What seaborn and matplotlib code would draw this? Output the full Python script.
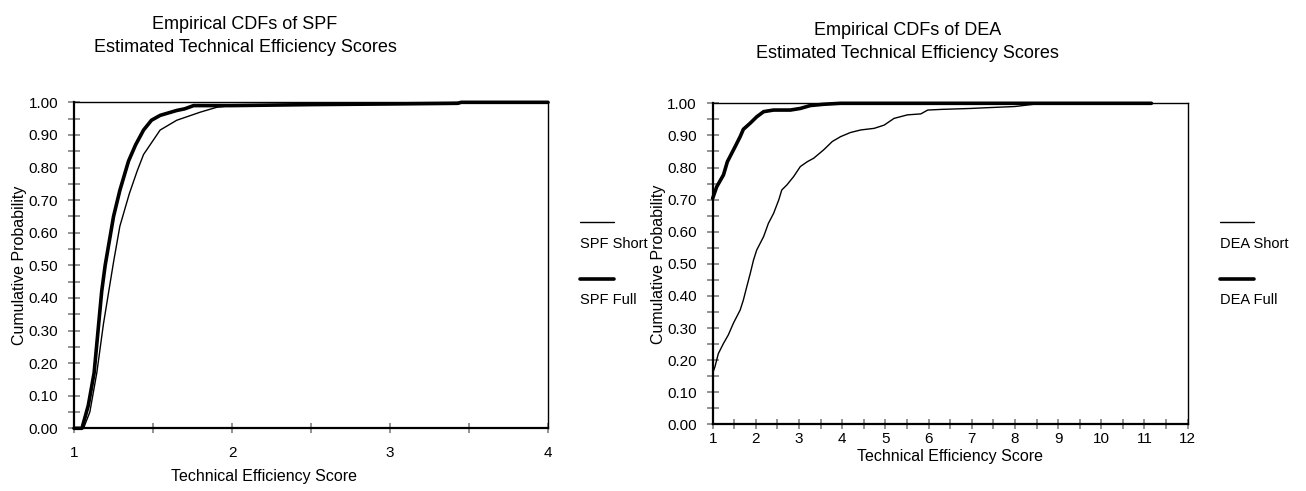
import numpy as np
import pandas as pd
import matplotlib
matplotlib.use("Agg")
import matplotlib.pyplot as plt
import seaborn as sns
from matplotlib.lines import Line2D

# valeurs
spf_short_x = [1.00, 1.06, 1.10, 1.144, 1.186, 1.25, 1.29, 1.35, 1.40, 1.44, 1.545,
               1.65, 1.71, 1.80, 1.905, 2.00, 2.50, 3.00, 3.50, 4.00]
spf_short_y = [0.00, 0.00, 0.05, 0.17, 0.32, 0.51, 0.62, 0.72, 0.79, 0.84, 0.915,
               0.945, 0.955, 0.97, 0.985, 0.99, 0.992, 0.995, 1.00, 1.00]

spf_full_x = [1.00, 1.05, 1.09, 1.127, 1.175, 1.197, 1.25, 1.29, 1.345, 1.39, 1.44,
              1.49, 1.545, 1.65, 1.70, 1.757, 1.88, 2.00, 2.50, 3.00, 3.43, 3.45, 4.00]
spf_full_y = [0.00, 0.00, 0.07, 0.17, 0.42, 0.50, 0.65, 0.73, 0.82, 0.87, 0.915,
              0.945, 0.96, 0.975, 0.98, 0.99, 0.99, 0.99, 0.993, 0.995, 0.997, 1.00, 1.00]

dea_short_x = [1.00, 1.054, 1.13, 1.25, 1.36, 1.48, 1.636, 1.71, 1.79, 1.87, 1.946,
               2.02, 2.18, 2.29, 2.41, 2.53, 2.60, 2.72, 2.876, 3.03, 3.19, 3.34,
               3.57, 3.77, 3.96, 4.19, 4.43, 4.74, 4.97, 5.20, 5.51, 5.82, 5.98,
               6.29, 6.98, 7.30, 8.00, 8.50, 8.60]
dea_short_y = [0.159, 0.18, 0.22, 0.252, 0.278, 0.315, 0.356, 0.387, 0.429, 0.47, 0.512,
               0.543, 0.585, 0.626, 0.657, 0.699, 0.73, 0.746, 0.772, 0.803, 0.818, 0.829,
               0.855, 0.881, 0.896, 0.909, 0.917, 0.922, 0.932, 0.953, 0.964, 0.967, 0.979,
               0.981, 0.984, 0.986, 0.99, 0.998, 1.00]

dea_full_x = [1.00, 1.093, 1.25, 1.34, 1.52, 1.636, 1.71, 1.868, 2.02, 2.18, 2.41,
              2.80, 3.03, 3.26, 3.57, 3.96, 11.16]
dea_full_y = [0.704, 0.74, 0.777, 0.818, 0.865, 0.896, 0.919, 0.938, 0.958, 0.974, 0.979,
              0.979, 0.984, 0.993, 0.997, 1.00, 1.00]

y_ticks = np.round(np.arange(0, 1.001, 0.1), 2)

sns.set_style("white")
plt.rcParams["font.family"] = ["Liberation Sans", "DejaVu Sans"]
plt.rcParams["text.color"] = "black"
plt.rcParams["axes.labelcolor"] = "black"
plt.rcParams["xtick.labelcolor"] = "black"
plt.rcParams["ytick.labelcolor"] = "black"

fig = plt.figure(figsize=(13.06, 4.91), dpi=100)
ax1 = fig.add_axes([0.0567, 0.1277, 0.3629, 0.6639])
ax2 = fig.add_axes([0.5457, 0.1358, 0.3637, 0.6538])


def tracer(ax, xs, ys, lw):
    d = pd.DataFrame({"x": xs, "y": ys})
    sns.lineplot(data=d, x="x", y="y", ax=ax, color="black", linewidth=lw,
                 sort=False, estimator=None, clip_on=False)


tracer(ax1, spf_short_x, spf_short_y, 1.0)
tracer(ax1, spf_full_x, spf_full_y, 2.6)
tracer(ax2, dea_short_x, dea_short_y, 1.0)
tracer(ax2, dea_full_x, dea_full_y, 2.6)

for ax, xmax, xpad, lpad in [(ax1, 4, 9, 7), (ax2, 12, 2, 2)]:
    ax.set_xlim(1, xmax)
    ax.set_ylim(0, 1)
    ax.set_xticks(range(1, xmax + 1))
    ax.set_xticks(np.arange(1.5, xmax, 1.0), minor=True)
    ax.set_yticks(y_ticks)
    ax.set_yticks(np.arange(0.05, 1.0, 0.1), minor=True)
    ax.set_yticklabels([f"{v:.2f}" for v in y_ticks])
    ax.tick_params(axis="y", which="both", direction="inout", length=9, width=1.2,
                   color="#808080", labelsize=11, pad=7, left=True)
    ax.tick_params(axis="x", which="both", direction="inout", length=7, width=1.2,
                   color="#808080", labelsize=11, pad=xpad, bottom=True)
    for s in ax.spines.values():
        s.set_color("black")
        s.set_linewidth(1.0)
    ax.spines["left"].set_linewidth(1.6)
    ax.spines["bottom"].set_linewidth(1.6)
    ax.set_xlabel("Technical Efficiency Score", fontsize=11.5, labelpad=lpad)
    ax.set_ylabel("Cumulative Probability", fontsize=11.5, labelpad=1)

# le titre de l'axe x de gauche est décalé vers la gauche
ax1.xaxis.set_label_coords(0.40, -0.125)

# titres
fig.text(0.1876, 0.967, "Empirical CDFs of SPF\nEstimated Technical Efficiency Scores",
         ha="center", va="top", fontsize=13, linespacing=1.45)
fig.text(0.695, 0.956, "Empirical CDFs of DEA\nEstimated Technical Efficiency Scores",
         ha="center", va="top", fontsize=13, linespacing=1.5)

# légendes
for x0, noms in [(0.4441, ["SPF Short", "SPF Full"]), (0.9342, ["DEA Short", "DEA Full"])]:
    for i, (nom, lw) in enumerate(zip(noms, [1.0, 2.6])):
        yl = 1 - (221.7 + 57 * i) / 491
        yt = 1 - (244 + 56 * i) / 491
        fig.add_artist(Line2D([x0, x0 + 0.026], [yl, yl], color="black", linewidth=lw,
                              transform=fig.transFigure))
        fig.text(x0, yt, nom, ha="left", va="center", fontsize=10.5)

fig.savefig("out.png", dpi=100)
plt.close()
